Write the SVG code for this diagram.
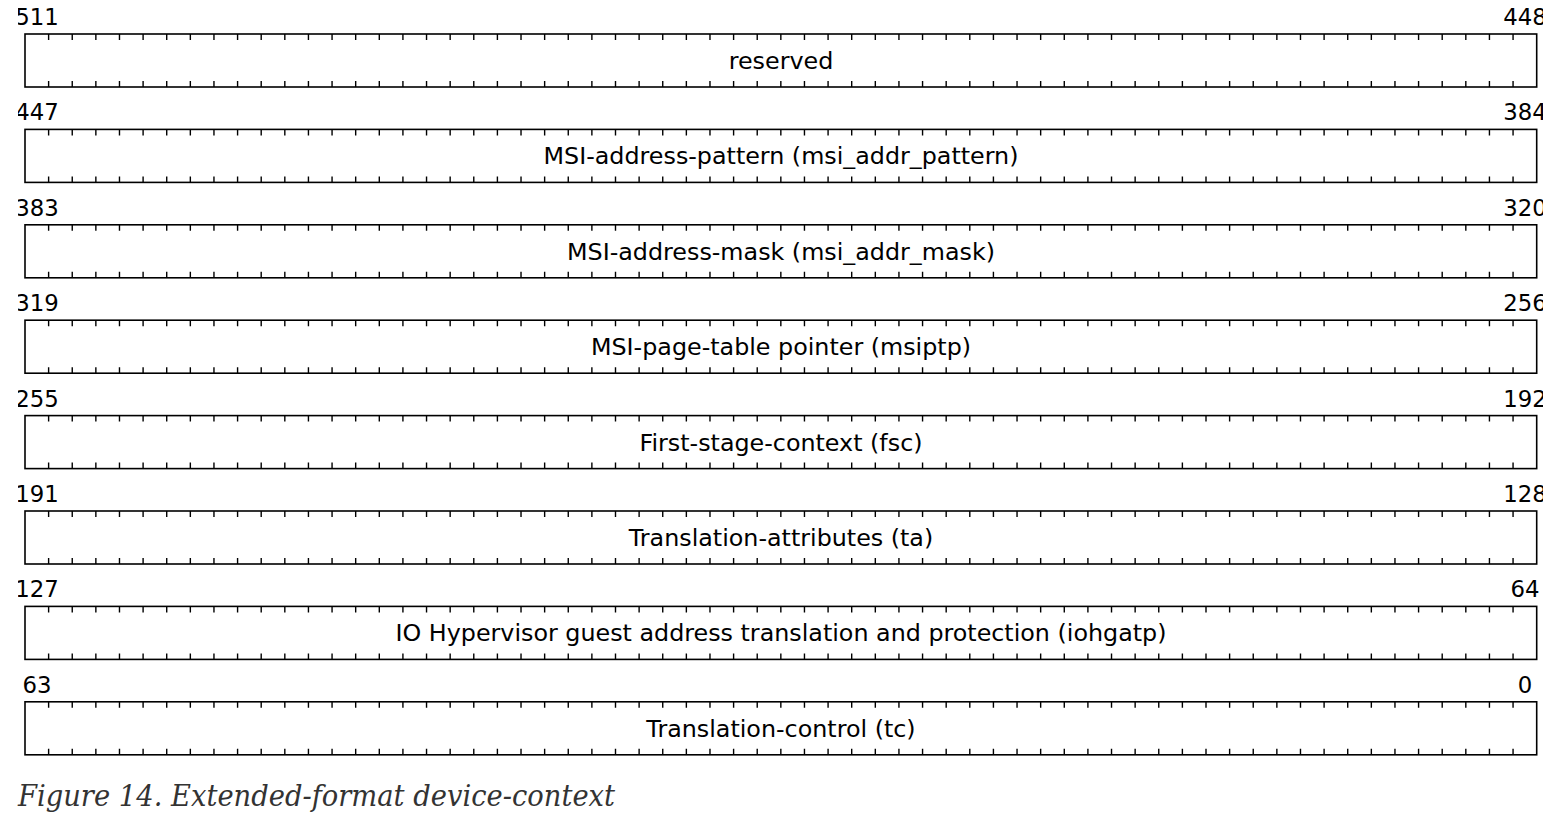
<svg xmlns="http://www.w3.org/2000/svg" xmlns:xlink="http://www.w3.org/1999/xlink" width="1553" height="822" viewBox="0 0 1553 822">
<style>
.box{fill:#fff;stroke:#000;stroke-width:1.6}
.tk{fill:none;stroke:#000;stroke-width:1.4}
.lbl{font-family:"DejaVu Sans",sans-serif;font-size:23.8px;fill:#000;text-anchor:middle}
.num{font-family:"DejaVu Sans",sans-serif;font-size:22.8px;fill:#000;text-anchor:middle}
.cap{font-family:"DejaVu Serif","Liberation Serif",serif;font-style:italic;font-size:29px;fill:#333}
</style>
<defs>
<clipPath id="clip"><rect x="18" y="0" width="1525" height="822"/></clipPath>
<path id="ticks" class="tk" d="M48.62 0v6M72.24 0v6M95.86 0v6M119.48 0v6M143.10 0v6M166.72 0v6M190.34 0v6M213.96 0v6M237.58 0v6M261.20 0v6M284.82 0v6M308.44 0v6M332.06 0v6M355.68 0v6M379.30 0v6M402.92 0v6M426.54 0v6M450.16 0v6M473.78 0v6M497.40 0v6M521.02 0v6M544.64 0v6M568.26 0v6M591.88 0v6M615.50 0v6M639.12 0v6M662.74 0v6M686.36 0v6M709.98 0v6M733.60 0v6M757.22 0v6M780.84 0v6M804.46 0v6M828.08 0v6M851.70 0v6M875.32 0v6M898.94 0v6M922.56 0v6M946.18 0v6M969.80 0v6M993.42 0v6M1017.04 0v6M1040.66 0v6M1064.28 0v6M1087.90 0v6M1111.52 0v6M1135.14 0v6M1158.76 0v6M1182.38 0v6M1206.00 0v6M1229.62 0v6M1253.24 0v6M1276.86 0v6M1300.48 0v6M1324.10 0v6M1347.72 0v6M1371.34 0v6M1394.96 0v6M1418.58 0v6M1442.20 0v6M1465.82 0v6M1489.44 0v6M1513.06 0v6M48.62 53v-6M72.24 53v-6M95.86 53v-6M119.48 53v-6M143.10 53v-6M166.72 53v-6M190.34 53v-6M213.96 53v-6M237.58 53v-6M261.20 53v-6M284.82 53v-6M308.44 53v-6M332.06 53v-6M355.68 53v-6M379.30 53v-6M402.92 53v-6M426.54 53v-6M450.16 53v-6M473.78 53v-6M497.40 53v-6M521.02 53v-6M544.64 53v-6M568.26 53v-6M591.88 53v-6M615.50 53v-6M639.12 53v-6M662.74 53v-6M686.36 53v-6M709.98 53v-6M733.60 53v-6M757.22 53v-6M780.84 53v-6M804.46 53v-6M828.08 53v-6M851.70 53v-6M875.32 53v-6M898.94 53v-6M922.56 53v-6M946.18 53v-6M969.80 53v-6M993.42 53v-6M1017.04 53v-6M1040.66 53v-6M1064.28 53v-6M1087.90 53v-6M1111.52 53v-6M1135.14 53v-6M1158.76 53v-6M1182.38 53v-6M1206.00 53v-6M1229.62 53v-6M1253.24 53v-6M1276.86 53v-6M1300.48 53v-6M1324.10 53v-6M1347.72 53v-6M1371.34 53v-6M1394.96 53v-6M1418.58 53v-6M1442.20 53v-6M1465.82 53v-6M1489.44 53v-6M1513.06 53v-6"/>
<g id="field">
<rect class="box" x="25" y="0" width="1511.7" height="53"/>
<use xlink:href="#ticks" href="#ticks"/>
</g>
</defs>
<rect width="1553" height="822" fill="#fff"/>

<g id="row-reserved" transform="translate(0,34)">
<use href="#field" xlink:href="#field"/>
<text class="lbl" x="781" y="35">reserved</text>
<g clip-path="url(#clip)" transform="translate(0,-34)"><text class="num" x="37" y="25">511</text><text class="num" x="1525" y="25">448</text></g>
</g>

<g id="row-msi-addr-pattern" transform="translate(0,129.4)">
<use href="#field" xlink:href="#field"/>
<text class="lbl" x="781" y="35">MSI-address-pattern (msi_addr_pattern)</text>
<g clip-path="url(#clip)" transform="translate(0,-129.4)"><text class="num" x="37" y="120.4">447</text><text class="num" x="1525" y="120.4">384</text></g>
</g>

<g id="row-msi-addr-mask" transform="translate(0,224.8)">
<use href="#field" xlink:href="#field"/>
<text class="lbl" x="781" y="35">MSI-address-mask (msi_addr_mask)</text>
<g clip-path="url(#clip)" transform="translate(0,-224.8)"><text class="num" x="37" y="215.8">383</text><text class="num" x="1525" y="215.8">320</text></g>
</g>

<g id="row-msiptp" transform="translate(0,320.2)">
<use href="#field" xlink:href="#field"/>
<text class="lbl" x="781" y="35">MSI-page-table pointer (msiptp)</text>
<g clip-path="url(#clip)" transform="translate(0,-320.2)"><text class="num" x="37" y="311.2">319</text><text class="num" x="1525" y="311.2">256</text></g>
</g>

<g id="row-fsc" transform="translate(0,415.6)">
<use href="#field" xlink:href="#field"/>
<text class="lbl" x="781" y="35">First-stage-context (fsc)</text>
<g clip-path="url(#clip)" transform="translate(0,-415.6)"><text class="num" x="37" y="406.6">255</text><text class="num" x="1525" y="406.6">192</text></g>
</g>

<g id="row-ta" transform="translate(0,511)">
<use href="#field" xlink:href="#field"/>
<text class="lbl" x="781" y="35">Translation-attributes (ta)</text>
<g clip-path="url(#clip)" transform="translate(0,-511)"><text class="num" x="37" y="502">191</text><text class="num" x="1525" y="502">128</text></g>
</g>

<g id="row-iohgatp" transform="translate(0,606.4)">
<use href="#field" xlink:href="#field"/>
<text class="lbl" x="781" y="35">IO Hypervisor guest address translation and protection (iohgatp)</text>
<g clip-path="url(#clip)" transform="translate(0,-606.4)"><text class="num" x="37" y="597.4">127</text><text class="num" x="1525" y="597.4">64</text></g>
</g>

<g id="row-tc" transform="translate(0,701.8)">
<use href="#field" xlink:href="#field"/>
<text class="lbl" x="781" y="35">Translation-control (tc)</text>
<g clip-path="url(#clip)" transform="translate(0,-701.8)"><text class="num" x="37" y="692.8">63</text><text class="num" x="1525" y="692.8">0</text></g>
</g>

<g id="connectors"/>

<text id="caption" class="cap" x="18" y="806" textLength="597" lengthAdjust="spacingAndGlyphs">Figure 14. Extended-format device-context</text>
</svg>
